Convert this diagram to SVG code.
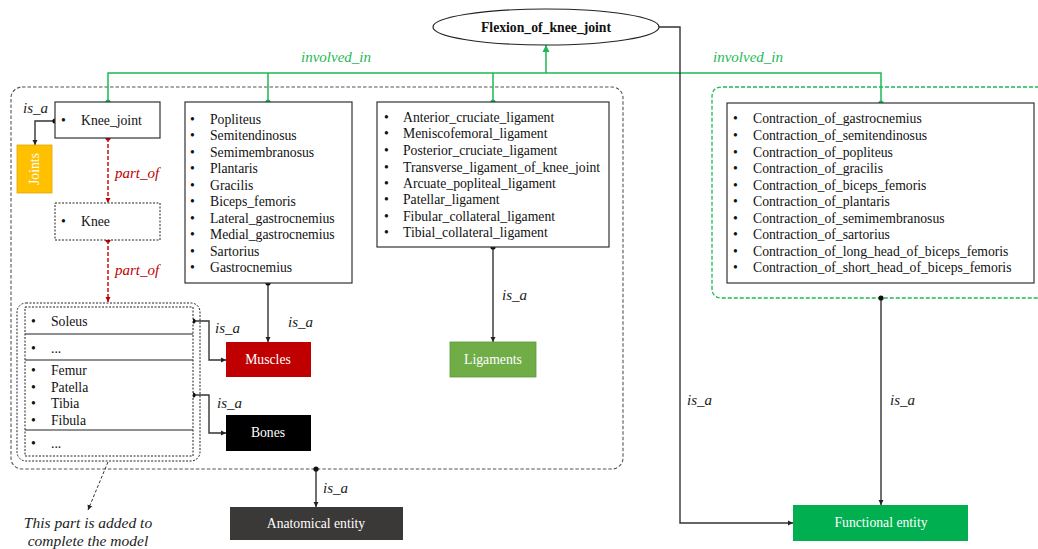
<svg xmlns="http://www.w3.org/2000/svg" width="1038" height="549" viewBox="0 0 1038 549">
<style>
text{font-family:"Liberation Serif","Times New Roman",serif;font-size:13.7px;fill:#111}
.lbl{font-style:italic;font-size:15px;fill:#222}
.ann{font-style:italic;font-size:15.5px;fill:#222;text-anchor:middle}
.grn{fill:#1DB954}
.red{fill:#C00000}
.w{fill:#fff;text-anchor:middle}
.box{fill:#fff;stroke:#333;stroke-width:1.2}
.con{fill:none;stroke:#333;stroke-width:1.4}
.gcon{fill:none;stroke:#1DB954;stroke-width:1.5}
.rcon{fill:none;stroke:#C00000;stroke-width:1.4;stroke-dasharray:4 2}
</style>
<defs>
<marker id="ar" markerWidth="6" markerHeight="6" refX="5" refY="3" orient="auto" markerUnits="userSpaceOnUse"><path d="M0,0.5 L5,3 L0,5.5z" fill="#222"/></marker>
<marker id="arr" markerWidth="6" markerHeight="6" refX="5" refY="3" orient="auto" markerUnits="userSpaceOnUse"><path d="M0,0.5 L5,3 L0,5.5z" fill="#C00000"/></marker>
<marker id="arg" markerWidth="8" markerHeight="8" refX="7" refY="4" orient="auto" markerUnits="userSpaceOnUse"><path d="M0,0.5 L7,4 L0,7.5z" fill="#1DB954"/></marker>
<marker id="dt" markerWidth="6" markerHeight="6" refX="3" refY="3" markerUnits="userSpaceOnUse"><circle cx="3" cy="3" r="2.6" fill="#111"/></marker>
<marker id="dtr" markerWidth="6" markerHeight="6" refX="3" refY="3" markerUnits="userSpaceOnUse"><circle cx="3" cy="3" r="2.6" fill="#C00000"/></marker>
<marker id="dtg" markerWidth="6" markerHeight="6" refX="3" refY="3" markerUnits="userSpaceOnUse"><circle cx="3" cy="3" r="2.6" fill="#1DB954"/></marker>
</defs>

<!-- containers -->
<g id="anatomical-group">
<rect x="11" y="87" width="612" height="382" rx="11" fill="none" stroke="#555" stroke-width="1.1" stroke-dasharray="3.5 2"/>
</g>
<g id="functional-group">
<path d="M1045,87 H722 Q712,87 712,97 V288 Q712,298 722,298 H1045" fill="none" stroke="#1DB954" stroke-width="1.3" stroke-dasharray="4 2"/>
</g>

<!-- connectors -->
<g id="connectors">
<path class="gcon" d="M108,102 V73 H881 V103" marker-start="url(#dtg)" marker-end="url(#dtg)"/>
<path class="gcon" d="M268,73 V102" marker-end="url(#dtg)"/>
<path class="gcon" d="M493,73 V102" marker-end="url(#dtg)"/>
<path class="gcon" d="M546,73 V45" stroke-width="2.2" marker-end="url(#arg)"/>
<path class="con" d="M659,27 H680 V523 H793" marker-end="url(#ar)"/>
<path class="con" d="M55,121 H35 V145" marker-start="url(#dt)" marker-end="url(#ar)"/>
<path class="rcon" d="M108,138 V203" marker-start="url(#dtr)" marker-end="url(#arr)"/>
<path class="rcon" d="M108,240 V302" marker-start="url(#dtr)" marker-end="url(#arr)"/>
<path class="con" d="M193,321 H209 V360 H226" marker-start="url(#dt)" marker-end="url(#ar)"/>
<path class="con" d="M193,395 H209 V433 H226" marker-start="url(#dt)" marker-end="url(#ar)"/>
<path class="con" d="M268,283 V342" marker-start="url(#dt)" marker-end="url(#ar)"/>
<path class="con" d="M493,247 V342" stroke-width="1.8" marker-start="url(#dt)" marker-end="url(#ar)"/>
<path class="con" d="M316,469 V507" marker-start="url(#dt)" marker-end="url(#ar)"/>
<path class="con" d="M881,298 V505" stroke-width="1.8" marker-start="url(#dt)" marker-end="url(#ar)"/>
<path d="M108,462 L88,510" fill="none" stroke="#333" stroke-width="1" stroke-dasharray="3 2" marker-end="url(#ar)"/>
</g>

<!-- connector labels -->
<g id="labels">
<text class="lbl grn" x="301" y="62">involved_in</text>
<text class="lbl grn" x="713" y="62">involved_in</text>
<text class="lbl" x="23" y="113">is_a</text>
<text class="lbl red" x="115" y="178">part_of</text>
<text class="lbl red" x="115" y="275">part_of</text>
<text class="lbl" x="215" y="333">is_a</text>
<text class="lbl" x="288" y="327">is_a</text>
<text class="lbl" x="217" y="408">is_a</text>
<text class="lbl" x="502" y="300">is_a</text>
<text class="lbl" x="323" y="493">is_a</text>
<text class="lbl" x="687" y="405">is_a</text>
<text class="lbl" x="890" y="405">is_a</text>
<text class="ann" x="88" y="528">This part is added to</text>
<text class="ann" x="88" y="546">complete the model</text>
</g>

<g id="flexion">
<ellipse cx="546" cy="27" rx="113" ry="18" fill="#fff" stroke="#222" stroke-width="1.2"/>
<text x="546" y="32" text-anchor="middle" font-weight="bold">Flexion_of_knee_joint</text>
</g>

<g id="knee-joint">
<rect class="box" x="55" y="102" width="105" height="36"/>
<text x="61" y="125">•</text><text x="81" y="125">Knee_joint</text>
</g>

<g id="joints">
<rect x="17" y="145" width="35" height="48" fill="#FFC000" stroke="#E0A800" stroke-width="0.8"/>
<text class="w" transform="translate(39,169) rotate(-90)">Joints</text>
</g>

<g id="knee">
<rect x="55" y="203" width="105" height="37" fill="#fff" stroke="#222" stroke-width="1" stroke-dasharray="2 1.5"/>
<text x="61" y="226">•</text><text x="81" y="226">Knee</text>
</g>

<g id="parts">
<rect x="17" y="303" width="183" height="158" rx="9" fill="none" stroke="#222" stroke-width="1" stroke-dasharray="2 1.5"/>
<rect x="25" y="307" width="168" height="149" fill="#fff" stroke="#222" stroke-width="1" stroke-dasharray="2 1.5"/>
<path d="M25,334 H193 M25,360 H193 M25,430 H193" stroke="#222" stroke-width="1.2"/>
<g>
<text x="31" y="326">•</text><text x="51" y="326">Soleus</text>
<text x="31" y="353">•</text><text x="51" y="353">...</text>
<text x="31" y="375">•</text><text x="51" y="375">Femur</text>
<text x="31" y="392">•</text><text x="51" y="392">Patella</text>
<text x="31" y="408">•</text><text x="51" y="408">Tibia</text>
<text x="31" y="425">•</text><text x="51" y="425">Fibula</text>
<text x="31" y="448">•</text><text x="51" y="448">...</text>
</g>
</g>

<g id="muscle-list">
<rect class="box" x="185" y="102" width="167" height="181"/>
<text x="190" y="124">•</text><text x="210" y="124">Popliteus</text>
<text x="190" y="140">•</text><text x="210" y="140">Semitendinosus</text>
<text x="190" y="157">•</text><text x="210" y="157">Semimembranosus</text>
<text x="190" y="173">•</text><text x="210" y="173">Plantaris</text>
<text x="190" y="190">•</text><text x="210" y="190">Gracilis</text>
<text x="190" y="206">•</text><text x="210" y="206">Biceps_femoris</text>
<text x="190" y="223">•</text><text x="210" y="223">Lateral_gastrocnemius</text>
<text x="190" y="239">•</text><text x="210" y="239">Medial_gastrocnemius</text>
<text x="190" y="256">•</text><text x="210" y="256">Sartorius</text>
<text x="190" y="272">•</text><text x="210" y="272">Gastrocnemius</text>
</g>

<g id="ligament-list">
<rect class="box" x="377" y="102" width="232" height="145"/>
<text x="384" y="122">•</text><text x="403" y="122">Anterior_cruciate_ligament</text>
<text x="384" y="138">•</text><text x="403" y="138">Meniscofemoral_ligament</text>
<text x="384" y="155">•</text><text x="403" y="155">Posterior_cruciate_ligament</text>
<text x="384" y="172">•</text><text x="403" y="172">Transverse_ligament_of_knee_joint</text>
<text x="384" y="188">•</text><text x="403" y="188">Arcuate_popliteal_ligament</text>
<text x="384" y="204">•</text><text x="403" y="204">Patellar_ligament</text>
<text x="384" y="221">•</text><text x="403" y="221">Fibular_collateral_ligament</text>
<text x="384" y="237">•</text><text x="403" y="237">Tibial_collateral_ligament</text>
</g>

<g id="contraction-list">
<rect class="box" x="727" y="103" width="307" height="180"/>
<text x="733" y="123">•</text><text x="753" y="123">Contraction_of_gastrocnemius</text>
<text x="733" y="140">•</text><text x="753" y="140">Contraction_of_semitendinosus</text>
<text x="733" y="157">•</text><text x="753" y="157">Contraction_of_popliteus</text>
<text x="733" y="173">•</text><text x="753" y="173">Contraction_of_gracilis</text>
<text x="733" y="190">•</text><text x="753" y="190">Contraction_of_biceps_femoris</text>
<text x="733" y="206">•</text><text x="753" y="206">Contraction_of_plantaris</text>
<text x="733" y="223">•</text><text x="753" y="223">Contraction_of_semimembranosus</text>
<text x="733" y="239">•</text><text x="753" y="239">Contraction_of_sartorius</text>
<text x="733" y="256">•</text><text x="753" y="256">Contraction_of_long_head_of_biceps_femoris</text>
<text x="733" y="272">•</text><text x="753" y="272">Contraction_of_short_head_of_biceps_femoris</text>
</g>

<g id="muscles">
<rect x="226" y="342" width="85" height="35" fill="#C00000"/>
<text class="w" x="268" y="364">Muscles</text>
</g>
<g id="bones">
<rect x="226" y="415" width="85" height="36" fill="#000"/>
<text class="w" x="268" y="437">Bones</text>
</g>
<g id="ligaments">
<rect x="450" y="342" width="86" height="35" fill="#70AD47" stroke="#5E9A3A" stroke-width="0.8"/>
<text class="w" x="493" y="364">Ligaments</text>
</g>
<g id="anatomical-entity">
<rect x="230" y="507" width="173" height="33" fill="#3B3838"/>
<text class="w" x="316" y="528">Anatomical entity</text>
</g>
<g id="functional-entity">
<rect x="793" y="505" width="175" height="36" fill="#00B050"/>
<text class="w" x="881" y="527">Functional entity</text>
</g>
</svg>
